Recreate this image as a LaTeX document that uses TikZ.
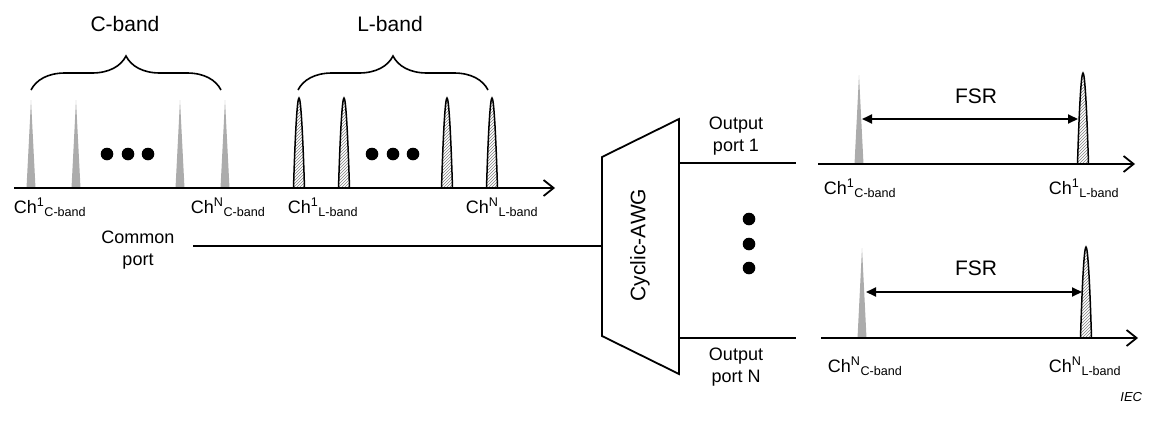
\documentclass[tikz,border=0pt]{standalone}
\usepackage{fontspec}
\setmainfont{Liberation Sans}
\usetikzlibrary{arrows.meta,patterns,decorations.pathreplacing}

\begin{document}
\begin{tikzpicture}[x=1pt, y=-1pt, line width=1.8pt,
    lbl/.style={font=\fontsize{21}{24}\selectfont, inner sep=0pt},
    chlbl/.style={font=\fontsize{18}{20}\selectfont, inner sep=0pt, anchor=base west},
    port/.style={font=\fontsize{18}{22}\selectfont, align=center, inner sep=0pt},
    axis/.style={-{Straight Barb[length=10pt,width=16pt]}},
    fsr/.style={{Triangle[length=10pt,width=9pt]}-{Triangle[length=10pt,width=9pt]}}]
    \useasboundingbox (0,0) rectangle (1153,421);
    % grey peaks (C-band): x/base/top
    \foreach \x/\b/\t in {31/188/100,76/188/100,180/188/100,225/188/100,
                          859/164/75,862/338/248} {
      \fill[gray!65] (\x-4.5,\b) -- (\x,\t) -- (\x+4.5,\b) -- cycle;
    }
    % hatched peaks (L-band)
    \tikzset{lpeak/.style={pattern=north east lines, pattern color=gray, line width=1.5pt}}
    \foreach \x/\b/\t in {299/188/98,344/188/98,447/188/98,492/188/98,
                          1083/164/73,1086/338/247} {
      \draw[lpeak] (\x-5.5,\b) .. controls (\x-3.5,\t+25) and (\x-1.5,\t) .. (\x,\t)
        .. controls (\x+1.5,\t) and (\x+3.5,\t+25) .. (\x+5.5,\b);
    }
    % dots
    \foreach \x in {107,128,148,372,393,413} {
      \fill (\x,154) circle (6.3pt);
    }
    \foreach \y in {219,244,268} {
      \fill (749,\y) circle (6.3pt);
    }
    % braces and band names
    \tikzset{band/.style={decorate, decoration={brace, amplitude=34pt}, line width=1.6pt}}
    \draw[band] (31,90) -- (221,90);
    \draw[band] (298,90) -- (488,90);
    \node[lbl] (cband) at (125,24) {C-band};
    \node[lbl] (lband) at (390,24) {L-band};
    % frequency axes
    \coordinate (in0) at (14,188);   \coordinate (in1) at (555,188);
    \coordinate (p1a) at (818,164);  \coordinate (p1b) at (1135,164);
    \coordinate (pNa) at (821,338);  \coordinate (pNb) at (1138,338);
    \draw[axis] (in0) -- (in1);
    \draw[axis] (p1a) -- (p1b);
    \draw[axis] (pNa) -- (pNb);
    % channel labels
    \node[chlbl] (c1in) at (13,213) {Ch\textsuperscript{1}\textsubscript{C-band}};
    \node[chlbl] (cNin) at (190,213) {Ch\textsuperscript{N}\textsubscript{C-band}};
    \node[chlbl] (l1in) at (287,213) {Ch\textsuperscript{1}\textsubscript{L-band}};
    \node[chlbl] (lNin) at (465,213) {Ch\textsuperscript{N}\textsubscript{L-band}};
    \node[chlbl] (c1out) at (823,194) {Ch\textsuperscript{1}\textsubscript{C-band}};
    \node[chlbl] (l1out) at (1048,194) {Ch\textsuperscript{1}\textsubscript{L-band}};
    \node[chlbl] (cNout) at (827,372) {Ch\textsuperscript{N}\textsubscript{C-band}};
    \node[chlbl] (lNout) at (1048,372) {Ch\textsuperscript{N}\textsubscript{L-band}};
    % cyclic AWG
    \coordinate (awgtl) at (602,157); \coordinate (awgbl) at (602,336);
    \coordinate (awgtr) at (679,119); \coordinate (awgbr) at (679,374);
    \draw (awgtl) -- (awgtr) -- (awgbr) -- (awgbl) -- cycle;
    \node[lbl, rotate=90] (awg) at (640,245) {Cyclic-AWG};
    % ports
    \node[port] (common) at (138,250) {Common\\port};
    \coordinate (cp0) at (193,246); \coordinate (cp1) at (602,246);
    \draw (cp0) -- (cp1);
    \node[port] (out1) at (736,136) {Output\\port 1};
    \node[port] (outN) at (736,367) {Output\\port N};
    \coordinate (o1a) at (679,163); \coordinate (o1b) at (796,163);
    \coordinate (oNa) at (679,338); \coordinate (oNb) at (796,338);
    \draw (o1a) -- (o1b);
    \draw (oNa) -- (oNb);
    % free spectral range
    \coordinate (f1a) at (862,119); \coordinate (f1b) at (1078,119);
    \coordinate (fNa) at (866,292); \coordinate (fNb) at (1082,292);
    \draw[fsr] (f1a) -- (f1b);
    \draw[fsr] (fNa) -- (fNb);
    \node[lbl] (fsr1) at (976,96) {FSR};
    \node[lbl] (fsrN) at (976,268) {FSR};
    \node[font=\fontsize{13}{14}\selectfont\itshape, anchor=east, inner sep=0pt] (iec) at (1143,397) {IEC};
\end{tikzpicture}
\end{document}
